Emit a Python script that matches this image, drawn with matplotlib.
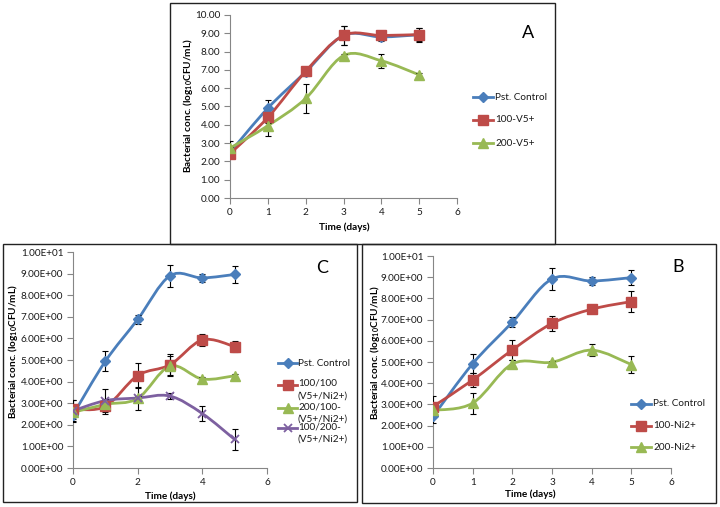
import numpy as np
import matplotlib
matplotlib.use('Agg')
import matplotlib.pyplot as plt
from matplotlib.path import Path
from matplotlib.patches import PathPatch, Rectangle
from matplotlib.lines import Line2D

plt.rcParams['font.family'] = ['Lato', 'DejaVu Sans']
plt.rcParams['mathtext.fontset'] = 'custom'
plt.rcParams['mathtext.bf'] = 'Lato:bold'
plt.rcParams['mathtext.rm'] = 'Lato'

# ---------------- data ----------------
days = [0, 1, 2, 3, 4, 5]

# Panel A
a_control = [2.49, 4.91, 6.89, 8.88, 8.80, 8.92]
a_control_err = [0.30, 0.47, 0.20, 0.52, 0.20, 0.38]
a_v100 = [2.42, 4.40, 6.92, 8.88, 8.88, 8.93]
a_v100_err = [0.25, 0.30, 0.20, 0.50, 0.15, 0.35]
a_v200 = [2.73, 3.95, 5.44, 7.78, 7.50, 6.73]
a_v200_err = [0.40, 0.55, 0.77, 0.10, 0.38, 0.10]

# Panel B
b_control = [2.43, 4.92, 6.88, 8.92, 8.82, 8.98]
b_control_err = [0.30, 0.45, 0.23, 0.51, 0.20, 0.37]
b_ni100 = [2.90, 4.15, 5.57, 6.82, 7.49, 7.85]
b_ni100_err = [0.50, 0.35, 0.47, 0.36, 0.06, 0.50]
b_ni200 = [2.72, 3.06, 4.91, 4.99, 5.56, 4.88]
b_ni200_err = [0.08, 0.50, 0.18, 0.08, 0.30, 0.40]

# Panel C
c_control = [2.46, 4.94, 6.88, 8.90, 8.80, 8.96]
c_control_err = [0.30, 0.46, 0.22, 0.52, 0.20, 0.38]
c_100_100 = [2.72, 2.85, 4.28, 4.78, 5.93, 5.62]
c_100_100_err = [0.45, 0.35, 0.57, 0.48, 0.26, 0.27]
c_200_100 = [2.57, 2.95, 3.22, 4.72, 4.12, 4.27]
c_200_100_err = [0.10, 0.15, 0.55, 0.45, 0.10, 0.10]
c_100_200 = [2.65, 3.12, 3.24, 3.33, 2.52, 1.32]
c_100_200_err = [0.50, 0.53, 0.10, 0.12, 0.35, 0.50]

labels_a = ['Pst. Control', '100-V5+', '200-V5+']
labels_b = ['Pst. Control', '100-Ni2+', '200-Ni2+']
labels_c = ['Pst. Control', '100/100\n(V5+/Ni2+)', '200/100-\n(V5+/Ni2+)', '100/200-\n(V5+/Ni2+)']

# ---------------- styles ----------------
BLUE, RED, GREEN, PURPLE = '#4A7EBB', '#BE4B48', '#98B954', '#7D60A0'
STY = [dict(color=BLUE, marker='D', ms=4.8),
       dict(color=RED, marker='s', ms=6.8),
       dict(color=GREEN, marker='^', ms=6.8),
       dict(color=PURPLE, marker='x', ms=6)]
GRAY = '#868686'

W, H = 720, 507
fig = plt.figure(figsize=(7.2, 5.07), dpi=100)


def fx(x):
    return x / W


def fy(y):
    return 1 - y / H


def axrect(l, t, r, b):
    return [l / W, 1 - b / H, (r - l) / W, (b - t) / H]


def smooth_path(xs, ys):
    pts = np.column_stack([xs, ys]).astype(float)
    n = len(pts)
    verts = [pts[0]]
    codes = [Path.MOVETO]
    for i in range(n - 1):
        p0 = pts[max(i - 1, 0)]
        p1 = pts[i]
        p2 = pts[i + 1]
        p3 = pts[min(i + 2, n - 1)]
        c1 = p1 + (p2 - p0) / 6.0
        c2 = p2 - (p3 - p1) / 6.0
        verts += [c1, c2, p2]
        codes += [Path.CURVE4] * 3
    return Path(verts, codes)


def panel(rect, series, errs, xticks, fmt):
    ax = fig.add_axes(axrect(*rect))
    for i, (vals, err) in enumerate(zip(series, errs)):
        s = STY[i]
        ax.add_patch(PathPatch(smooth_path(days, vals), fill=False, edgecolor=s['color'],
                               lw=2.0, zorder=3, capstyle='round', joinstyle='round'))
        ax.errorbar(days, vals, yerr=err, fmt='none', ecolor='black', elinewidth=0.8,
                    capsize=2.2, capthick=0.8, zorder=4)
        if s['marker'] == 'x':
            ax.plot(days, vals, ls='none', marker='x', ms=s['ms'], mec=s['color'], mew=1.3, zorder=5)
        else:
            ax.plot(days, vals, ls='none', marker=s['marker'], ms=s['ms'], mfc=s['color'],
                    mec=s['color'], zorder=5)
    ax.set_xlim(0, 6)
    ax.set_ylim(0, 10)
    ax.set_xticks(xticks)
    ax.set_yticks(np.arange(0, 11, 1))
    ax.set_yticklabels([fmt(v) for v in np.arange(0, 11, 1)])
    for sp in ['top', 'right']:
        ax.spines[sp].set_visible(False)
    for sp in ['left', 'bottom']:
        ax.spines[sp].set_color(GRAY)
        ax.spines[sp].set_linewidth(0.8)
    ax.tick_params(direction='out', length=4, width=0.8, color=GRAY, labelsize=7.2,
                   labelcolor='#1a1a1a', pad=3)
    ax.patch.set_alpha(0)
    return ax


def legend(x1, x2, xt, entries, ys):
    for i, (lab, y) in enumerate(zip(entries, ys)):
        s = STY[i]
        fig.add_artist(Line2D([fx(x1), fx(x2)], [fy(y), fy(y)], color=s['color'], lw=2.0,
                              transform=fig.transFigure))
        xm = (x1 + x2) / 2
        if s['marker'] == 'x':
            fig.add_artist(Line2D([fx(xm)], [fy(y)], ls='none', marker='x', ms=s['ms'],
                                  mec=s['color'], mew=1.3, transform=fig.transFigure))
        else:
            fig.add_artist(Line2D([fx(xm)], [fy(y)], ls='none', marker=s['marker'], ms=s['ms'],
                                  mfc=s['color'], mec=s['color'], transform=fig.transFigure))
        if '\n' in lab:
            fig.text(fx(xt), fy(y - 6), lab, fontsize=7.2, va='top', ha='left', color='#1a1a1a',
                     linespacing=1.45)
        else:
            fig.text(fx(xt), fy(y), lab, fontsize=7.2, va='center', ha='left', color='#1a1a1a')


ylab = r'Bacterial conc. (log$_{\mathbf{10}}$CFU/mL)'

# panel boxes
for (l, t, r, b) in [(170, 3, 555, 244), (3, 244, 357, 502), (362, 244, 716, 503)]:
    fig.add_artist(Rectangle((fx(l), fy(b)), (r - l) / W, (b - t) / H, fill=False,
                             edgecolor='#222222', lw=1.0, transform=fig.transFigure))

# Panel A
panel((230, 15, 457, 198), [a_control, a_v100, a_v200], [a_control_err, a_v100_err, a_v200_err],
      range(0, 7), lambda v: f'{v:.2f}')
legend(473, 493, 495, labels_a, [97, 120, 143])
fig.text(fx(528), fy(33), 'A', fontsize=13, ha='center', va='center')
fig.text(fx(344), fy(227), 'Time (days)', fontsize=7.2, fontweight='bold', ha='center', va='center')
fig.text(fx(188), fy(106), ylab, fontsize=7.2, fontweight='bold', ha='center', va='center', rotation=90)

# Panel C
panel((73, 252, 267, 468), [c_control, c_100_100, c_200_100, c_100_200],
      [c_control_err, c_100_100_err, c_200_100_err, c_100_200_err],
      [0, 2, 4, 6], lambda v: f'{v:.2E}')
legend(278, 297, 298, labels_c, [363, 385, 408, 428])
fig.text(fx(322), fy(268), 'C', fontsize=13, ha='center', va='center')
fig.text(fx(170), fy(496), 'Time (days)', fontsize=7.2, fontweight='bold', ha='center', va='center')
fig.text(fx(13), fy(352), ylab, fontsize=7.2, fontweight='bold', ha='center', va='center', rotation=90)

# Panel B
panel((433, 256, 671, 468), [b_control, b_ni100, b_ni200], [b_control_err, b_ni100_err, b_ni200_err],
      range(0, 7), lambda v: f'{v:.2E}')
legend(631, 651, 653, labels_b, [404, 426, 447])
fig.text(fx(678), fy(267), 'B', fontsize=13, ha='center', va='center')
fig.text(fx(530), fy(494), 'Time (days)', fontsize=7.2, fontweight='bold', ha='center', va='center')
fig.text(fx(375), fy(353), ylab, fontsize=7.2, fontweight='bold', ha='center', va='center', rotation=90)

fig.savefig('out.png', dpi=100)
